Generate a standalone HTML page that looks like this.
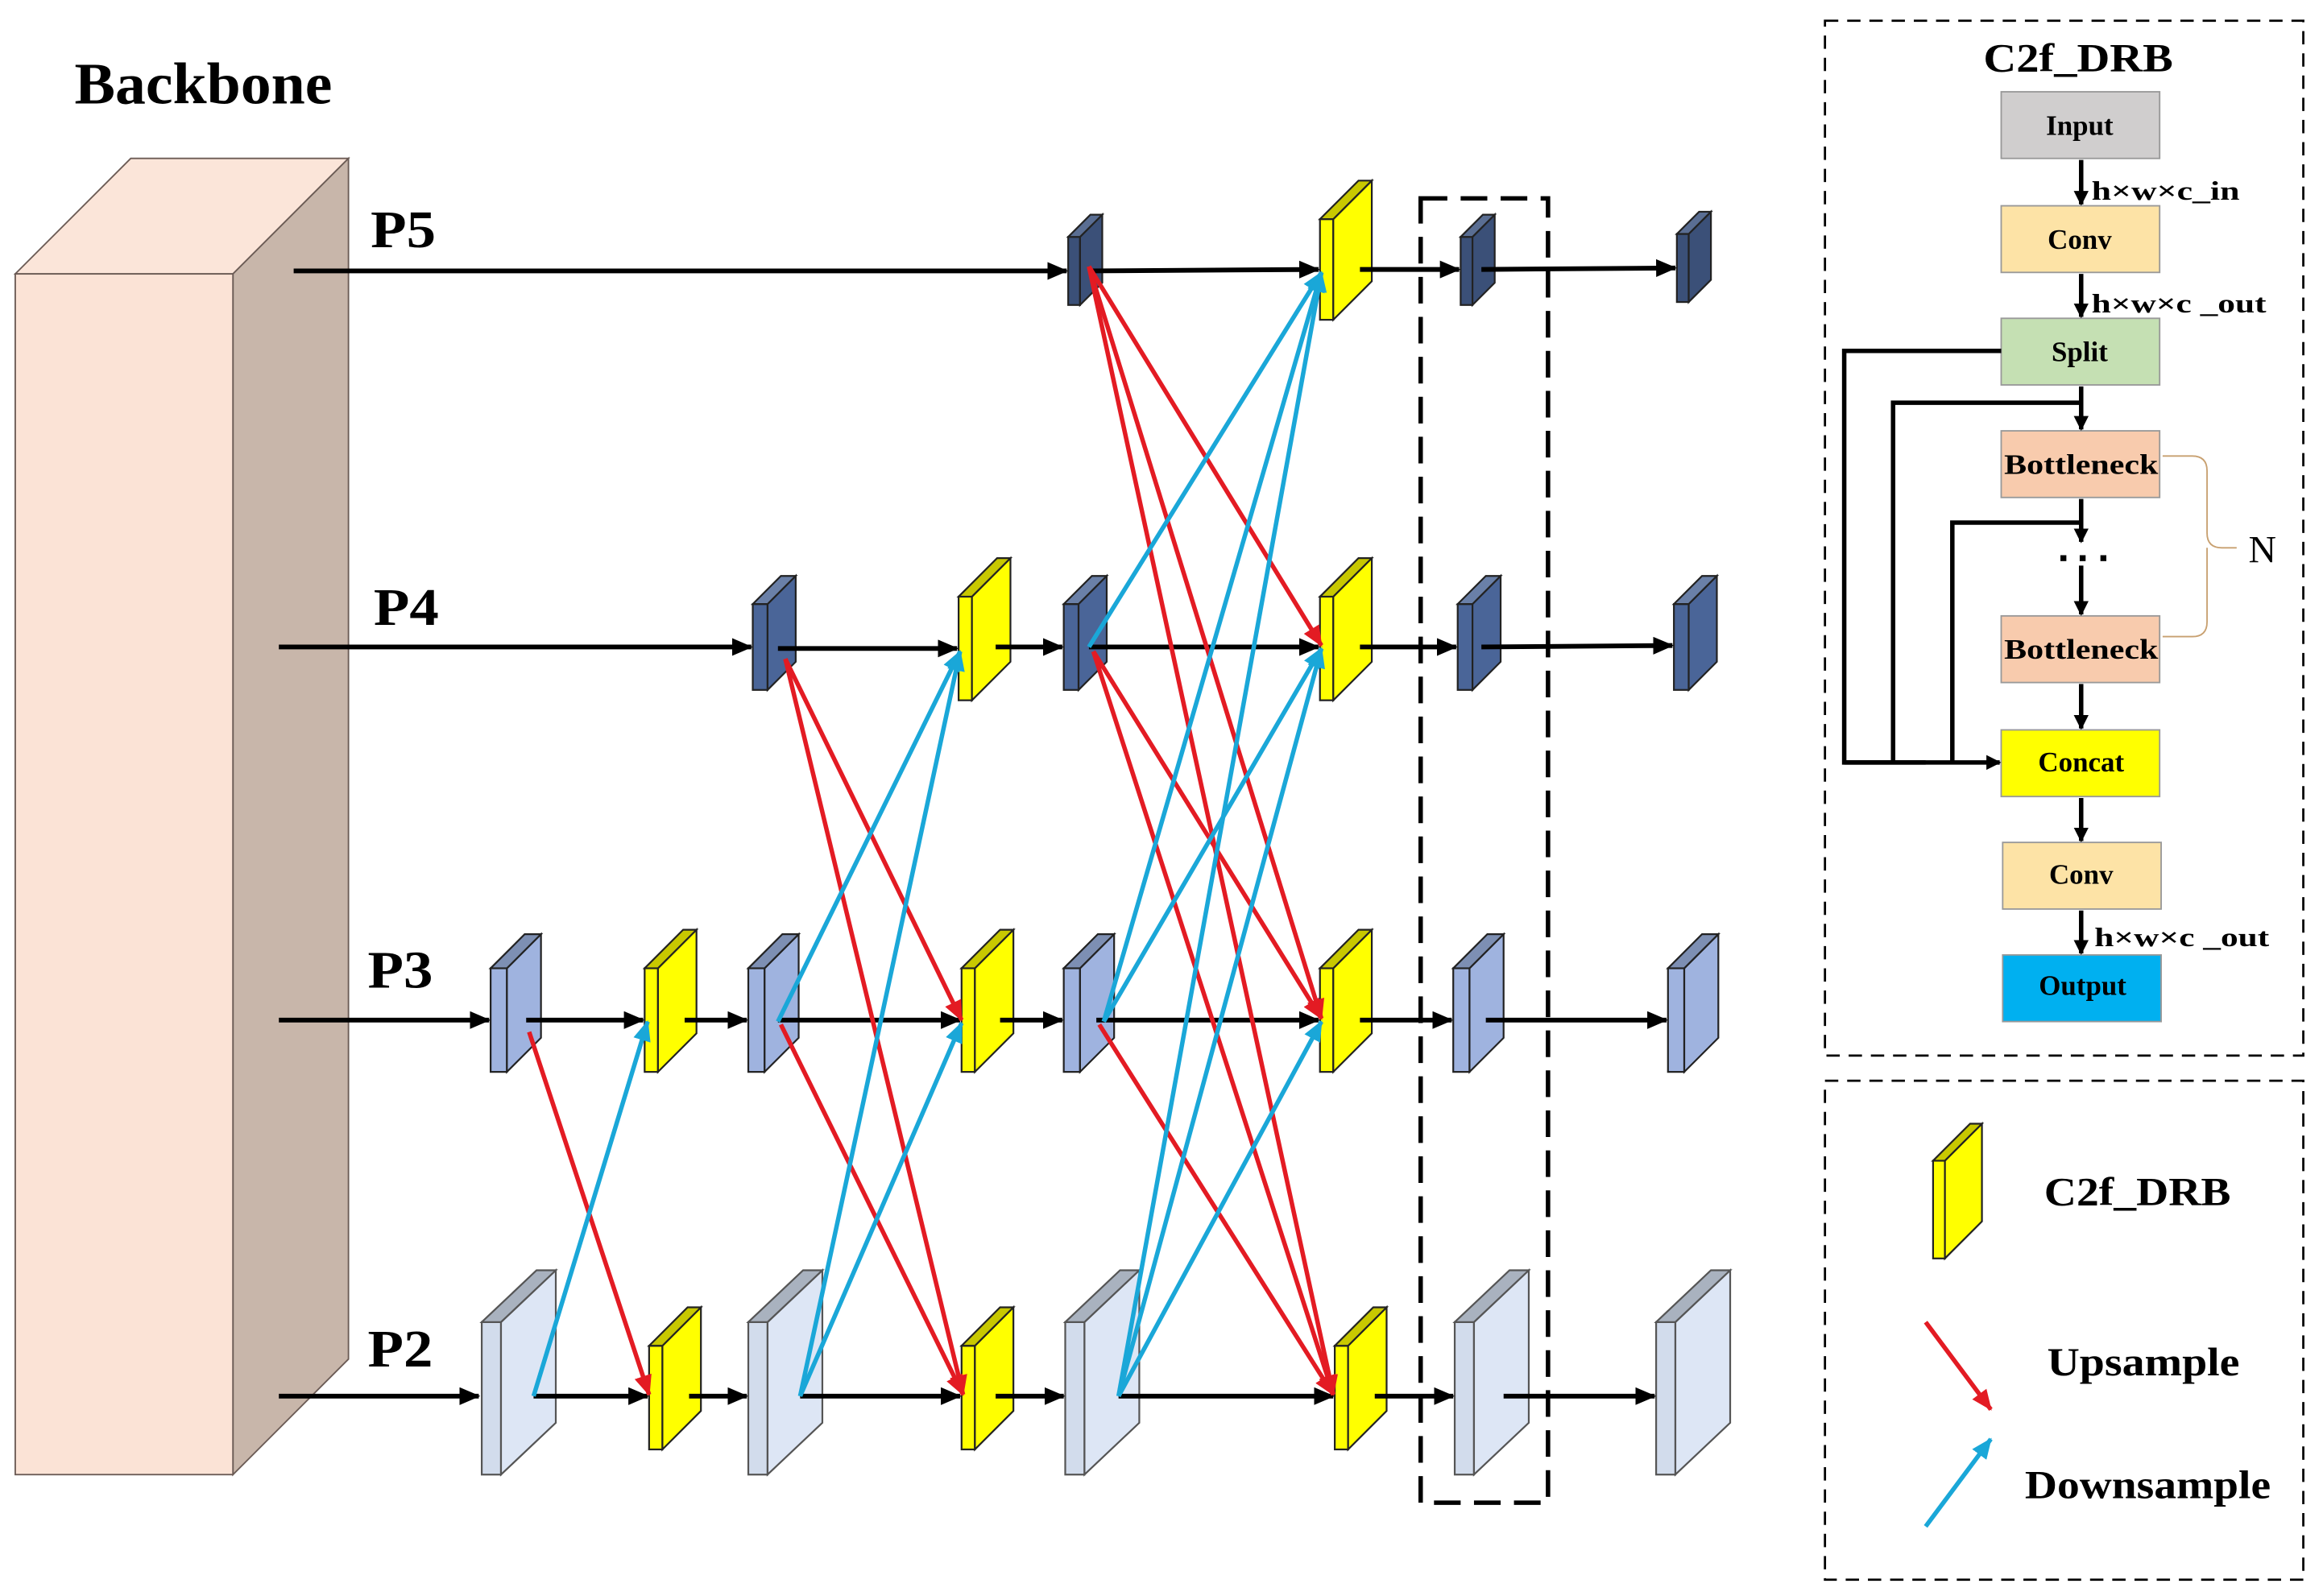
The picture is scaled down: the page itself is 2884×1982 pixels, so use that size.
<!DOCTYPE html>
<html><head><meta charset="utf-8"><style>
html,body{margin:0;padding:0;background:#fff;}
svg{display:block;}
text{font-family:"Liberation Serif",serif;font-weight:bold;fill:#000;}
</style></head><body>
<svg width="2884" height="1982" viewBox="0 0 1568 1078" xmlns="http://www.w3.org/2000/svg">
<defs>
<marker id="ab" markerUnits="userSpaceOnUse" markerWidth="14" markerHeight="12" refX="13" refY="6" orient="auto"><path d="M0,0 L14,6 L0,12 z" fill="#000"/></marker>
<marker id="ar" markerUnits="userSpaceOnUse" markerWidth="14" markerHeight="12" refX="13" refY="6" orient="auto"><path d="M0,0 L14,6 L0,12 z" fill="#e31b23"/></marker>
<marker id="au" markerUnits="userSpaceOnUse" markerWidth="14" markerHeight="12" refX="13" refY="6" orient="auto"><path d="M0,0 L14,6 L0,12 z" fill="#1aa7d8"/></marker>
<marker id="as" markerUnits="userSpaceOnUse" markerWidth="10" markerHeight="10" refX="9" refY="5" orient="auto"><path d="M0,0 L10,5 L0,10 z" fill="#000"/></marker>
</defs>
<rect width="1568" height="1078" fill="#fff"/>

<!-- Backbone -->
<text x="50" y="70" font-size="40" textLength="174" lengthAdjust="spacingAndGlyphs">Backbone</text>
<polygon points="10,185 88,107 235,107 157,185" fill="#fbe5d9" stroke="#6b5b55" stroke-width="1"/>
<polygon points="157,185 235,107 235,918 157,996" fill="#c8b6aa" stroke="#6b5b55" stroke-width="1"/>
<rect x="10" y="185" width="147" height="811" fill="#fbe3d6" stroke="#6b5b55" stroke-width="1"/>

<text x="250" y="167" font-size="36" textLength="44" lengthAdjust="spacingAndGlyphs">P5</text>
<text x="252" y="422" font-size="36" textLength="44" lengthAdjust="spacingAndGlyphs">P4</text>
<text x="248" y="667" font-size="36" textLength="44" lengthAdjust="spacingAndGlyphs">P3</text>
<text x="248" y="923" font-size="36" textLength="44" lengthAdjust="spacingAndGlyphs">P2</text>

<!-- slabs -->
<g stroke="#222" stroke-width="1.2">
<g fill="#3b5078">
<rect x="721" y="160" width="8" height="46"/><polygon points="729,160 744,145 744,191 729,206"/><polygon points="721,160 736,145 744,145 729,160" fill="#5a6e93"/>
<rect x="986" y="160" width="8" height="46"/><polygon points="994,160 1009,145 1009,191 994,206"/><polygon points="986,160 1001,145 1009,145 994,160" fill="#5a6e93"/>
<rect x="1132" y="158" width="8" height="46"/><polygon points="1140,158 1155,143 1155,189 1140,204"/><polygon points="1132,158 1147,143 1155,143 1140,158" fill="#5a6e93"/>
</g>
<g fill="#4a6598">
<rect x="508" y="408" width="10" height="58"/><polygon points="518,408 537,389 537,447 518,466"/><polygon points="508,408 527,389 537,389 518,408" fill="#6a80a8"/>
<rect x="718" y="408" width="10" height="58"/><polygon points="728,408 747,389 747,447 728,466"/><polygon points="718,408 737,389 747,389 728,408" fill="#6a80a8"/>
<rect x="984" y="408" width="10" height="58"/><polygon points="994,408 1013,389 1013,447 994,466"/><polygon points="984,408 1003,389 1013,389 994,408" fill="#6a80a8"/>
<rect x="1130" y="408" width="10" height="58"/><polygon points="1140,408 1159,389 1159,447 1140,466"/><polygon points="1130,408 1149,389 1159,389 1140,408" fill="#6a80a8"/>
</g>
<g fill="#9fb3df">
<rect x="331" y="654" width="11" height="70"/><polygon points="342,654 365,631 365,701 342,724"/><polygon points="331,654 354,631 365,631 342,654" fill="#7d8fb3"/>
<rect x="505" y="654" width="11" height="70"/><polygon points="516,654 539,631 539,701 516,724"/><polygon points="505,654 528,631 539,631 516,654" fill="#7d8fb3"/>
<rect x="718" y="654" width="11" height="70"/><polygon points="729,654 752,631 752,701 729,724"/><polygon points="718,654 741,631 752,631 729,654" fill="#7d8fb3"/>
<rect x="981" y="654" width="11" height="70"/><polygon points="992,654 1015,631 1015,701 992,724"/><polygon points="981,654 1004,631 1015,631 992,654" fill="#7d8fb3"/>
<rect x="1126" y="654" width="11" height="70"/><polygon points="1137,654 1160,631 1160,701 1137,724"/><polygon points="1126,654 1149,631 1160,631 1137,654" fill="#7d8fb3"/>
</g>
<g fill="#dde6f5" stroke="#555">
<rect x="325" y="893" width="13" height="103" fill="#d2dcec"/><polygon points="338,893 375,858 375,961 338,996"/><polygon points="325,893 362,858 375,858 338,893" fill="#a9b2bf"/>
<rect x="505" y="893" width="13" height="103" fill="#d2dcec"/><polygon points="518,893 555,858 555,961 518,996"/><polygon points="505,893 542,858 555,858 518,893" fill="#a9b2bf"/>
<rect x="719" y="893" width="13" height="103" fill="#d2dcec"/><polygon points="732,893 769,858 769,961 732,996"/><polygon points="719,893 756,858 769,858 732,893" fill="#a9b2bf"/>
<rect x="982" y="893" width="13" height="103" fill="#d2dcec"/><polygon points="995,893 1032,858 1032,961 995,996"/><polygon points="982,893 1019,858 1032,858 995,893" fill="#a9b2bf"/>
<rect x="1118" y="893" width="13" height="103" fill="#d2dcec"/><polygon points="1131,893 1168,858 1168,961 1131,996"/><polygon points="1118,893 1155,858 1168,858 1131,893" fill="#a9b2bf"/>
</g>
<g fill="#ffff00">
<rect x="891" y="148" width="9" height="68"/><polygon points="900,148 926,122 926,190 900,216"/><polygon points="891,148 917,122 926,122 900,148" fill="#c8c800"/>
<rect x="647" y="403" width="9" height="70"/><polygon points="656,403 682,377 682,447 656,473"/><polygon points="647,403 673,377 682,377 656,403" fill="#c8c800"/>
<rect x="891" y="403" width="9" height="70"/><polygon points="900,403 926,377 926,447 900,473"/><polygon points="891,403 917,377 926,377 900,403" fill="#c8c800"/>
<rect x="435" y="654" width="9" height="70"/><polygon points="444,654 470,628 470,698 444,724"/><polygon points="435,654 461,628 470,628 444,654" fill="#c8c800"/>
<rect x="649" y="654" width="9" height="70"/><polygon points="658,654 684,628 684,698 658,724"/><polygon points="649,654 675,628 684,628 658,654" fill="#c8c800"/>
<rect x="891" y="654" width="9" height="70"/><polygon points="900,654 926,628 926,698 900,724"/><polygon points="891,654 917,628 926,628 900,654" fill="#c8c800"/>
<rect x="438" y="909" width="9" height="70"/><polygon points="447,909 473,883 473,953 447,979"/><polygon points="438,909 464,883 473,883 447,909" fill="#c8c800"/>
<rect x="649" y="909" width="9" height="70"/><polygon points="658,909 684,883 684,953 658,979"/><polygon points="649,909 675,883 684,883 658,909" fill="#c8c800"/>
<rect x="901" y="909" width="9" height="70"/><polygon points="910,909 936,883 936,953 910,979"/><polygon points="901,909 927,883 936,883 910,909" fill="#c8c800"/>
</g>
</g>

<!-- black horizontal arrows -->
<g stroke="#000" stroke-width="3.2" marker-end="url(#ab)">
<line x1="198" y1="183" x2="720" y2="183"/><line x1="735" y1="183" x2="890" y2="182"/><line x1="918" y1="182" x2="985" y2="182"/><line x1="1000" y1="182" x2="1131" y2="181"/>
<line x1="188" y1="437" x2="507" y2="437"/><line x1="525" y1="438" x2="646" y2="438"/><line x1="672" y1="437" x2="717" y2="437"/><line x1="735" y1="437" x2="890" y2="437"/><line x1="918" y1="437" x2="983" y2="437"/><line x1="1000" y1="437" x2="1129" y2="436"/>
<line x1="188" y1="689" x2="330" y2="689"/><line x1="355" y1="689" x2="434" y2="689"/><line x1="462" y1="689" x2="504" y2="689"/><line x1="525" y1="689" x2="648" y2="689"/><line x1="675" y1="689" x2="717" y2="689"/><line x1="740" y1="689" x2="890" y2="689"/><line x1="918" y1="689" x2="980" y2="689"/><line x1="1003" y1="689" x2="1125" y2="689"/>
<line x1="188" y1="943" x2="323" y2="943"/><line x1="360" y1="943" x2="437" y2="943"/><line x1="465" y1="943" x2="504" y2="943"/><line x1="540" y1="943" x2="648" y2="943"/><line x1="672" y1="943" x2="718" y2="943"/><line x1="755" y1="943" x2="900" y2="943"/><line x1="928" y1="943" x2="981" y2="943"/><line x1="1015" y1="943" x2="1117" y2="943"/>
</g>

<!-- red upsample -->
<g stroke="#e31b23" stroke-width="3" marker-end="url(#ar)">
<line x1="357" y1="697" x2="438" y2="942"/>
<line x1="530" y1="445" x2="649" y2="689"/>
<line x1="530" y1="445" x2="650" y2="942"/>
<line x1="527" y1="692" x2="650" y2="942"/>
<line x1="735" y1="180" x2="892" y2="436"/>
<line x1="735" y1="180" x2="892" y2="688"/>
<line x1="735" y1="180" x2="900" y2="942"/>
<line x1="738" y1="440" x2="892" y2="688"/>
<line x1="738" y1="440" x2="900" y2="942"/>
<line x1="742" y1="692" x2="900" y2="942"/>
</g>
<!-- blue downsample -->
<g stroke="#1aa7d8" stroke-width="3" marker-end="url(#au)">
<line x1="360" y1="943" x2="437" y2="690"/>
<line x1="525" y1="690" x2="648" y2="440"/>
<line x1="540" y1="943" x2="648" y2="440"/>
<line x1="540" y1="943" x2="649" y2="691"/>
<line x1="735" y1="437" x2="892" y2="184"/>
<line x1="745" y1="690" x2="892" y2="184"/>
<line x1="745" y1="690" x2="892" y2="438"/>
<line x1="755" y1="943" x2="892" y2="184"/>
<line x1="755" y1="943" x2="892" y2="438"/>
<line x1="755" y1="943" x2="892" y2="690"/>
</g>

<!-- dashed highlight -->
<rect x="959" y="134" width="86" height="881" fill="none" stroke="#000" stroke-width="3" stroke-dasharray="18,9"/>

<!-- C2f_DRB panel -->
<rect x="1232" y="14" width="323" height="699" fill="none" stroke="#000" stroke-width="1.5" stroke-dasharray="9,6"/>
<text x="1403" y="48" font-size="27" text-anchor="middle" textLength="128" lengthAdjust="spacingAndGlyphs">C2f_DRB</text>
<g stroke="#999" stroke-width="1">
<rect x="1351" y="62" width="107" height="45" fill="#d0cece"/>
<rect x="1351" y="139" width="107" height="45" fill="#fde3a6"/>
<rect x="1351" y="215" width="107" height="45" fill="#c5e0b3"/>
<rect x="1351" y="291" width="107" height="45" fill="#f8cbad"/>
<rect x="1351" y="416" width="107" height="45" fill="#f8cbad"/>
<rect x="1351" y="493" width="107" height="45" fill="#ffff00"/>
<rect x="1352" y="569" width="107" height="45" fill="#fde3a6"/>
<rect x="1352" y="645" width="107" height="45" fill="#00b0f0"/>
</g>
<g font-size="19" text-anchor="middle">
<text x="1404" y="91">Input</text>
<text x="1404" y="168">Conv</text>
<text x="1404" y="244">Split</text>
<text x="1405" y="320" textLength="104" lengthAdjust="spacingAndGlyphs">Bottleneck</text>
<text x="1405" y="445" textLength="104" lengthAdjust="spacingAndGlyphs">Bottleneck</text>
<text x="1405" y="521">Concat</text>
<text x="1405" y="597">Conv</text>
<text x="1406" y="672">Output</text>
</g>
<g stroke="#000" stroke-width="3" marker-end="url(#as)">
<line x1="1405" y1="108" x2="1405" y2="138"/>
<line x1="1405" y1="185" x2="1405" y2="214"/>
<line x1="1405" y1="261" x2="1405" y2="290"/>
<line x1="1405" y1="337" x2="1405" y2="366"/>
<line x1="1405" y1="382" x2="1405" y2="415"/>
<line x1="1405" y1="462" x2="1405" y2="492"/>
<line x1="1405" y1="539" x2="1405" y2="568"/>
<line x1="1405" y1="615" x2="1405" y2="644"/>
</g>
<g stroke="#000" stroke-width="3" fill="none">
<polyline points="1351,237 1245,237 1245,515 1300,515"/>
<polyline points="1405,272 1278,272 1278,515"/>
<polyline points="1405,353 1318,353 1318,515"/>
<line x1="1245" y1="515" x2="1350" y2="515" marker-end="url(#as)"/>
</g>
<g fill="#000"><rect x="1391" y="375" width="4" height="4"/><rect x="1404" y="375" width="4" height="4"/><rect x="1418" y="375" width="4" height="4"/></g>
<path d="M1460,308 L1480,308 Q1490,308 1490,318 L1490,360 Q1490,370 1500,370 L1510,370 M1490,370 Q1490,380 1490,380 L1490,420 Q1490,430 1480,430 L1460,430" stroke="#c8a070" stroke-width="1" fill="none"/>
<text x="1518" y="380" font-size="26" style="font-weight:normal">N</text>
<g font-size="18">
<text x="1412" y="135" textLength="100" lengthAdjust="spacingAndGlyphs">h×w×c_in</text>
<text x="1412" y="211" textLength="118" lengthAdjust="spacingAndGlyphs">h×w×c _out</text>
<text x="1414" y="639" textLength="118" lengthAdjust="spacingAndGlyphs">h×w×c _out</text>
</g>

<!-- legend -->
<rect x="1232" y="730" width="323" height="337" fill="none" stroke="#000" stroke-width="1.5" stroke-dasharray="9,6"/>
<g stroke="#222" stroke-width="1.2" fill="#ffff00">
<rect x="1305" y="784" width="8" height="66"/><polygon points="1313,784 1338,759 1338,825 1313,850"/><polygon points="1305,784 1330,759 1338,759 1313,784" fill="#c8c800"/>
</g>
<text x="1443" y="814" font-size="27" text-anchor="middle" textLength="126" lengthAdjust="spacingAndGlyphs">C2f_DRB</text>
<line x1="1300" y1="893" x2="1344" y2="952" stroke="#e31b23" stroke-width="3" marker-end="url(#ar)"/>
<text x="1447" y="929" font-size="27" text-anchor="middle" textLength="130" lengthAdjust="spacingAndGlyphs">Upsample</text>
<line x1="1300" y1="1031" x2="1344" y2="972" stroke="#1aa7d8" stroke-width="3" marker-end="url(#au)"/>
<text x="1450" y="1012" font-size="27" text-anchor="middle" textLength="166" lengthAdjust="spacingAndGlyphs">Downsample</text>
</svg>
</body></html>
